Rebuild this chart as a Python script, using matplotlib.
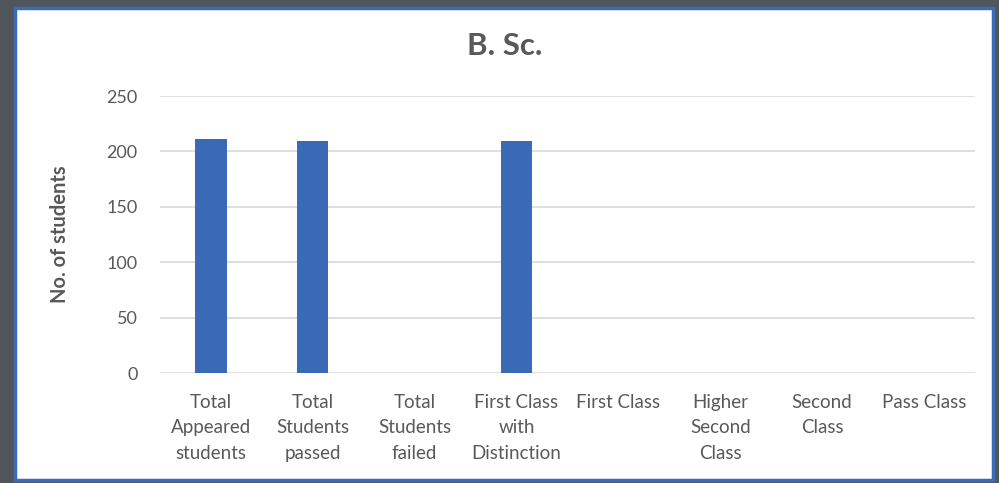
import matplotlib
matplotlib.use("Agg")
import matplotlib.pyplot as plt
from matplotlib.patches import Rectangle

categories = ["Total\nAppeared\nstudents", "Total\nStudents\npassed", "Total\nStudents\nfailed",
              "First Class\nwith\nDistinction", "First Class", "Higher\nSecond\nClass",
              "Second\nClass", "Pass Class"]
students = [211, 209, 0, 209, 0, 0, 0, 0]
yticks = [0, 50, 100, 150, 200, 250]

plt.rcParams["font.family"] = ["Lato", "DejaVu Sans"]
grey = "#595959"

fig = plt.figure(figsize=(9.99, 4.83), dpi=100, facecolor="#50555b")

# white card with blue border
card = Rectangle((15 / 999, 3 / 483), 978 / 999, 472 / 483, transform=fig.transFigure,
                 facecolor="white", edgecolor="#3a6bb5", linewidth=2.5, zorder=-5)
fig.patches.append(card)

ax = fig.add_axes([0.160, 0.2277, 0.816, 0.5735])
ax.set_zorder(2)
ax.set_facecolor("none")
x = range(len(categories))
ax.bar(x, students, width=0.31, color="#3a6ab5", zorder=3)

ax.set_ylim(0, 250)
ax.set_xlim(-0.5, len(categories) - 0.5)
ax.set_yticks(yticks)
ax.set_xticks(list(x))
ax.set_xticklabels(categories, linespacing=1.6)
ax.tick_params(axis="both", length=0, labelsize=13.5, colors=grey)
ax.tick_params(axis="y", pad=16, labelsize=13)
ax.tick_params(axis="x", pad=15)
ax.grid(axis="y", color="#d9d9d9", linewidth=1.2, zorder=0)
for s in ax.spines.values():
    s.set_visible(False)

ax.set_ylabel("No. of students", fontsize=14.5, fontweight="bold", color=grey, labelpad=26)
fig.text(0.505, 0.905, "B. Sc.", ha="center", va="center", fontsize=22.5,
         fontweight="bold", color=grey)

fig.savefig("out.png", dpi=100, facecolor=fig.get_facecolor())
